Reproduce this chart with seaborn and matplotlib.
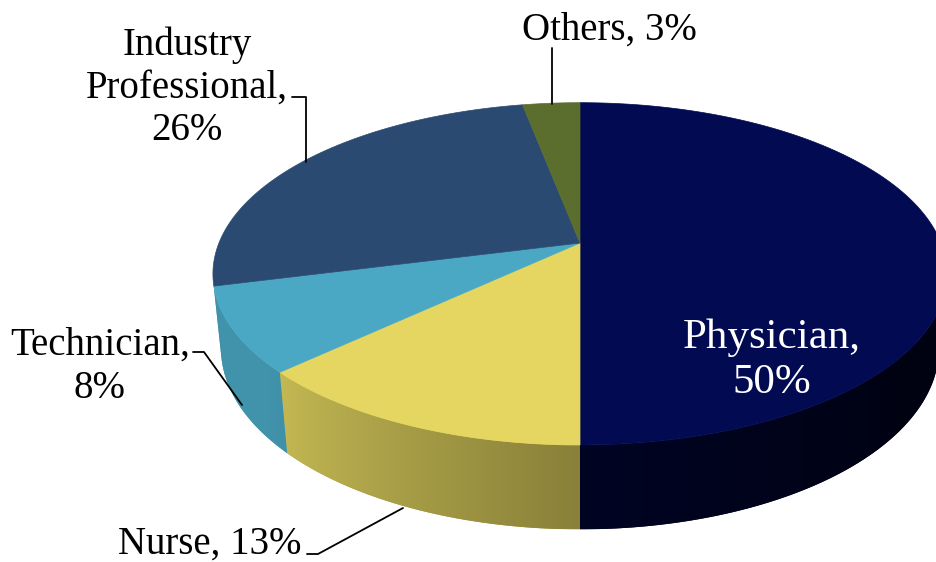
import numpy as np
import matplotlib
matplotlib.use("Agg")
import matplotlib.pyplot as plt
import seaborn as sns
from matplotlib.patches import Polygon
from matplotlib.colors import to_rgb

# ---- data ----
categories = ["Physician", "Nurse", "Technician", "Industry Professional", "Others"]
values = [50, 13, 8, 26, 3]
label_texts = ["Physician,\n50%", "Nurse, 13%", "Technician,\n8%",
               "Industry\nProfessional,\n26%", "Others, 3%"]
top_colors = ["#020a52", "#e4d660", "#4aa8c4", "#2b4a72", "#5c6e2e"]
wall_dark = [0.72, 1.0, 1.0, 1.0, 1.0]   # extra darkening of the side wall

sns.set_theme(style="white")
plt.rcParams["font.family"] = ["Liberation Serif", "DejaVu Serif"]

W, Hpx = 937, 562
fig = plt.figure(figsize=(W / 100, Hpx / 100), dpi=100)
ax = fig.add_axes([0, 0, 1, 1])
ax.axis("off")

# ---- perspective projection of a 3D pie ----
ELEV = np.deg2rad(27.3)
sE, cE = np.sin(ELEV), np.cos(ELEV)
DIST = 4.93
SCALE = 1780
CX, CY = 580, 243
DEPTH = 0.235


def project(X, Y, Z):
    vy = Y + DIST * cE
    vz = Z - DIST * sE
    depth = vy * cE - vz * sE
    up = vy * sE + vz * cE
    return CX + SCALE * X / depth, CY - SCALE * up / depth


def rim(phi_deg, z):
    p = np.deg2rad(phi_deg)
    return project(np.sin(p), np.cos(p), z)


def shade(phi):
    return np.clip(0.6 + (phi - 180.0) / 180.0, 0.3, 0.88)


fracs = np.array(values, dtype=float) / sum(values)
bounds = np.concatenate([[0], np.cumsum(fracs)]) * 360.0
vis_lo = np.rad2deg(np.arccos(-1.0 / (DIST * cE)))
vis_hi = 360.0 - vis_lo

# side walls (front part only) with a horizontal shading gradient
for i in range(len(values)):
    a0, a1 = max(bounds[i], vis_lo), min(bounds[i + 1], vis_hi)
    if a1 <= a0:
        continue
    phis = np.linspace(a0, a1, 200)
    top = np.array([rim(p, 0) for p in phis])
    bot = np.array([rim(p, -DEPTH) for p in phis])
    pts = np.vstack([top, bot[::-1]])
    base = np.array(to_rgb(top_colors[i]))
    midcol = base * shade(phis.mean()) * wall_dark[i]
    poly = Polygon(pts, closed=True, facecolor=midcol, edgecolor="none",
                   zorder=1)
    ax.add_patch(poly)
    x0, x1 = pts[:, 0].min(), pts[:, 0].max()
    y0, y1 = pts[:, 1].min(), pts[:, 1].max()
    xs = np.linspace(x0, x1, 300)
    order = np.argsort(top[:, 0])
    phi_x = np.interp(xs, top[order, 0], phis[order])
    cols = base[None, :] * shade(phi_x)[:, None] * wall_dark[i]
    img = np.repeat(cols[None, :, :], 2, axis=0)
    im = ax.imshow(img, extent=(x0, x1, y1, y0), aspect="auto",
                   interpolation="bilinear", zorder=1.5)
    im.set_clip_path(poly)

# top faces
for i in range(len(values)):
    a0, a1 = bounds[i], bounds[i + 1]
    phis = np.linspace(a0, a1, max(6, int((a1 - a0) * 2)))
    pts = [(CX, CY)] + [rim(p, 0) for p in phis]
    ax.add_patch(Polygon(pts, closed=True, facecolor=top_colors[i],
                         edgecolor=top_colors[i], linewidth=0.5, zorder=2))

ax.set_xlim(0, W)
ax.set_ylim(Hpx, 0)
ax.set_aspect("auto")

# ---- labels (va='baseline' -> baseline of last line) ----
fs = 28
ax.text(772, 393, label_texts[0], ha="center", va="baseline", fontsize=31,
        color="white", linespacing=1.22, zorder=5)
ax.text(210, 554, label_texts[1], ha="center", va="baseline", fontsize=fs,
        color="black", zorder=5)
ax.text(100, 398, label_texts[2], ha="center", va="baseline", fontsize=fs,
        color="black", linespacing=1.24, zorder=5)
ax.text(187, 140, label_texts[3], ha="center", va="baseline", fontsize=fs,
        color="black", linespacing=1.19, zorder=5)
ax.text(609, 40, label_texts[4], ha="center", va="baseline", fontsize=fs,
        color="black", zorder=5)

# leader lines
lk = dict(color="black", linewidth=1.3, zorder=4)
ax.plot([292, 306, 306], [97, 97, 162], **lk)
ax.plot([193, 204, 242], [352, 352, 405], **lk)
ax.plot([307, 318, 403], [554, 554, 508], **lk)
ax.plot([552, 552], [48, 104], **lk)

fig.savefig("out.png", dpi=100, facecolor="white")
